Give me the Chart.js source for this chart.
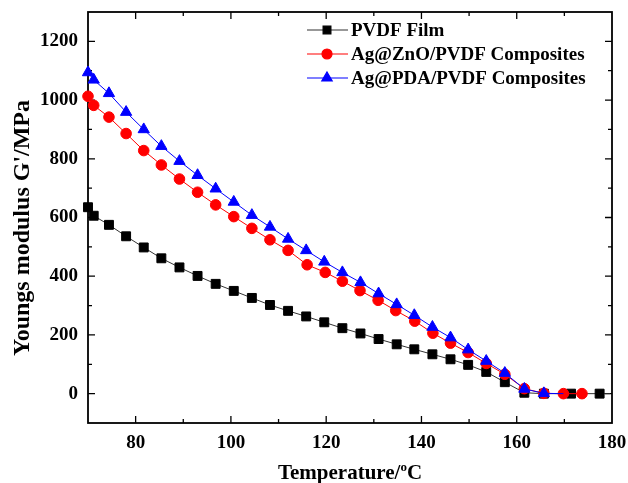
<!DOCTYPE html>
<html>
<head>
<meta charset="utf-8">
<script src="https://cdn.jsdelivr.net/npm/chart.js@4.4.0/dist/chart.umd.min.js"></script>
<style>
  html, body { margin: 0; padding: 0; background: #fff; }
</style>
</head>
<body>
<canvas id="modulusChart" width="628" height="483"></canvas>
<script>
// Storage modulus vs temperature for three films
const pvdfT = [70.0, 71.2, 74.4, 78.0, 81.7, 85.4, 89.2, 93.0, 96.8, 100.6, 104.4, 108.2, 112.0, 115.8,
  119.6, 123.4, 127.2, 131.0, 134.8, 138.5, 142.3, 146.1, 149.8, 153.6, 157.5, 161.6, 165.7, 171.4, 177.4, 179.6];
const pvdfG = [635, 606, 575, 536, 498, 461, 430, 401, 374, 350, 326, 302, 282, 263,
  243, 223, 205, 186, 168, 151, 134, 117, 98, 74, 39, 3, 0, 0, 0, 0];

const znoT = [70.0, 71.2, 74.4, 78.0, 81.7, 85.4, 89.2, 93.0, 96.8, 100.6, 104.4, 108.2, 112.0, 116.0,
  119.8, 123.4, 127.1, 130.9, 134.6, 138.6, 142.4, 146.1, 149.8, 153.6, 157.5, 161.6, 165.7, 169.8, 173.7];
const znoG = [1013, 982, 942, 886, 828, 779, 731, 686, 643, 603, 563, 524, 488, 439,
  413, 383, 351, 318, 283, 247, 206, 172, 140, 103, 66, 17, 1, 0, 0];

const pdaT = [70.0, 71.2, 74.4, 78.0, 81.7, 85.4, 89.2, 93.0, 96.8, 100.6, 104.4, 108.2, 112.0, 115.8,
  119.6, 123.4, 127.2, 131.0, 134.8, 138.5, 142.3, 146.1, 149.8, 153.6, 157.5, 161.6, 165.7, 169.8];
const pdaG = [1094, 1069, 1023, 959, 900, 843, 792, 744, 698, 653, 608, 568, 527, 488,
  449, 413, 379, 341, 304, 267, 227, 191, 150, 111, 70, 16, 1, 0];

const seriesNames = ['PVDF Film', 'Ag@ZnO/PVDF Composites', 'Ag@PDA/PVDF Composites'];
const xTicks = [80, 100, 120, 140, 160, 180];
const yTicks = [0, 200, 400, 600, 800, 1000, 1200];

const serif = '"Liberation Serif", "Times New Roman", serif';
const toXY = (xs, ys) => xs.map((t, i) => ({ x: t, y: ys[i] }));
// last point of a series carries only the line, no marker
const tailless = (n, r) => c => (c.dataIndex === n - 1 ? 0 : r);

// boxed frame with inward ticks on all four sides
const frameTicks = {
  id: 'frameTicks',
  beforeDatasetsDraw(chart) {
    const { ctx, chartArea: a, scales: { x, y } } = chart;
    ctx.save();
    ctx.strokeStyle = '#000';
    ctx.lineWidth = 1.8;
    ctx.strokeRect(a.left, a.top, a.right - a.left, a.bottom - a.top);
    ctx.lineWidth = 1.3;
    ctx.beginPath();
    const xStep = xTicks[1] - xTicks[0];
    const yStep = yTicks[1] - yTicks[0];
    const xMarks = [];
    xTicks.forEach(v => { xMarks.push([v, 7]); xMarks.push([v - xStep / 2, 4]); });
    const yMarks = [];
    yTicks.forEach(v => { yMarks.push([v, 7]); yMarks.push([v + yStep / 2, 4]); });
    xMarks.forEach(([v, len]) => {
      if (v <= x.min || v >= x.max) return;
      const px = x.getPixelForValue(v);
      ctx.moveTo(px, a.bottom); ctx.lineTo(px, a.bottom - len);
      ctx.moveTo(px, a.top); ctx.lineTo(px, a.top + len);
    });
    yMarks.forEach(([v, len]) => {
      if (v <= y.min || v >= y.max) return;
      const py = y.getPixelForValue(v);
      ctx.moveTo(a.left, py); ctx.lineTo(a.left + len, py);
      ctx.moveTo(a.right, py); ctx.lineTo(a.right - len, py);
    });
    ctx.stroke();
    ctx.restore();
  }
};

// axis titles (x title has a raised "o" before C)
const axisTitles = {
  id: 'axisTitles',
  afterDraw(chart) {
    const { ctx, chartArea: a } = chart;
    ctx.save();
    ctx.fillStyle = '#000';
    ctx.textBaseline = 'alphabetic';
    const big = 'bold 21px ' + serif;
    const small = 'bold 13px ' + serif;
    ctx.font = big;
    const w1 = ctx.measureText('Temperature/').width;
    const w3 = ctx.measureText('C').width;
    ctx.font = small;
    const w2 = ctx.measureText('o').width;
    let tx = (a.left + a.right) / 2 - (w1 + w2 + w3) / 2;
    const base = 479;
    ctx.textAlign = 'left';
    ctx.font = big;
    ctx.fillText('Temperature/', tx, base);
    tx += w1;
    ctx.font = small;
    ctx.fillText('o', tx, base - 8);
    tx += w2;
    ctx.font = big;
    ctx.fillText('C', tx, base);

    ctx.translate(29, 228);
    ctx.rotate(-Math.PI / 2);
    ctx.textAlign = 'center';
    ctx.font = 'bold 24px ' + serif;
    ctx.fillText("Youngs modulus G'/MPa", 0, 0);
    ctx.restore();
  }
};

// legend: line segment through marker, then label
const lineLegend = {
  id: 'lineLegend',
  afterDraw(chart) {
    const { ctx } = chart;
    ctx.save();
    chart.data.datasets.forEach((ds, i) => {
      const yy = 30 + i * 24;
      ctx.strokeStyle = ds.borderColor;
      ctx.lineWidth = 1.2;
      ctx.beginPath();
      ctx.moveTo(307, yy); ctx.lineTo(348, yy);
      ctx.stroke();
      ctx.fillStyle = ds.pointBackgroundColor;
      ctx.strokeStyle = ds.pointBorderColor;
      Chart.helpers.drawPoint(ctx, { pointStyle: ds.pointStyle, rotation: 0, radius: ds.legendRadius, borderWidth: 1 }, 327, yy);
      ctx.fillStyle = '#000';
      ctx.font = 'bold 19px ' + serif;
      ctx.textAlign = 'left';
      ctx.textBaseline = 'middle';
      ctx.fillText(ds.label, 351, yy + 1);
    });
    ctx.restore();
  }
};

new Chart(document.getElementById('modulusChart'), {
  type: 'line',
  data: {
    datasets: [{
      label: seriesNames[0],
      data: toXY(pvdfT, pvdfG),
      borderColor: '#333',
      borderWidth: 1,
      pointStyle: 'rect',
      pointRadius: tailless(pvdfT.length, 6.3),
      legendRadius: 5.5,
      pointBackgroundColor: '#000',
      pointBorderColor: '#000',
      order: 3
    }, {
      label: seriesNames[1],
      data: toXY(znoT, znoG),
      borderColor: '#ff0000',
      borderWidth: 1,
      pointStyle: 'circle',
      pointRadius: 5.3,
      legendRadius: 5,
      pointBackgroundColor: '#ff0000',
      pointBorderColor: '#ff0000',
      order: 2
    }, {
      label: seriesNames[2],
      data: toXY(pdaT, pdaG),
      borderColor: '#0000ff',
      borderWidth: 1,
      pointStyle: 'triangle',
      pointRadius: tailless(pdaT.length, 6.5),
      legendRadius: 6,
      pointBackgroundColor: '#0000ff',
      pointBorderColor: '#0000ff',
      order: 1
    }]
  },
  options: {
    responsive: false,
    animation: false,
    devicePixelRatio: 1,
    clip: false,
    layout: { padding: { top: 12, right: 16, left: 0, bottom: 0 } },
    elements: { line: { tension: 0 }, point: { borderWidth: 1 } },
    plugins: { legend: { display: false }, tooltip: { enabled: false } },
    scales: {
      x: {
        type: 'linear',
        min: 70,
        max: 180,
        afterBuildTicks: s => { s.ticks = xTicks.map(v => ({ value: v })); },
        afterFit: s => { s.height = 60; s.paddingLeft = 0; s.paddingRight = 0; },
        grid: { display: false, drawTicks: false },
        border: { display: false },
        ticks: { color: '#000', font: { family: serif, size: 19, weight: 'bold' }, padding: 9, maxRotation: 0,
                 callback: v => String(v) }
      },
      y: {
        type: 'linear',
        min: -100,
        max: 1300,
        afterBuildTicks: s => { s.ticks = yTicks.map(v => ({ value: v })); },
        afterFit: s => { s.width = 88; s.paddingTop = 0; s.paddingBottom = 0; },
        grid: { display: false, drawTicks: false },
        border: { display: false },
        ticks: { color: '#000', font: { family: serif, size: 19, weight: 'bold' }, padding: 10,
                 callback: v => String(v) }
      }
    }
  },
  plugins: [frameTicks, axisTitles, lineLegend]
});
</script>
</body>
</html>
